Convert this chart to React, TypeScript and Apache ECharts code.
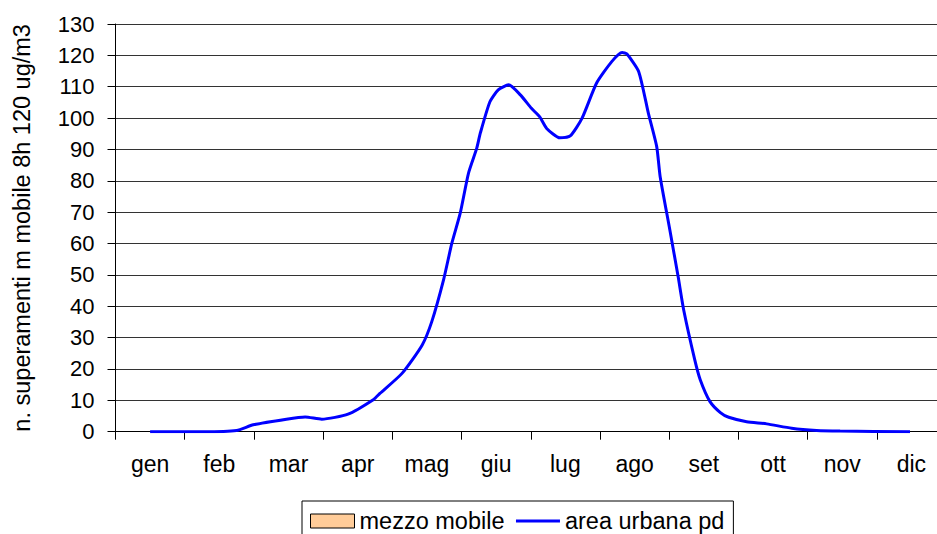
import React, { useEffect, useRef } from "react";
import * as echarts from "echarts";

const months = ["gen", "feb", "mar", "apr", "mag", "giu", "lug", "ago", "set", "ott", "nov", "dic"];
const yTicks = { min: 0, max: 130, interval: 10 };
// position along the year, in months (0 = start of gen, 12 = end of dic)
const positions = [
  0.5, 1.03, 1.26, 1.75, 1.99, 2.47, 2.74, 2.98, 3.36, 3.73, 3.82, 4.14, 4.43, 4.57, 4.74, 4.86,
  4.98, 5.1, 5.22, 5.27, 5.41, 5.53, 5.68, 5.85, 6.01, 6.13, 6.23, 6.42, 6.57, 6.74, 6.95, 7.17,
  7.32, 7.39, 7.56, 7.7, 7.82, 7.87, 8.01, 8.13, 8.21, 8.37, 8.45, 8.59, 8.74, 8.86, 9.12, 9.41,
  9.77, 10.13, 10.47, 11.48,
];
const areaUrbanaPd = [
  0, 0, 0, 0.4, 2.2, 4.0, 4.7, 4.0, 5.6, 10.3, 12.2, 18.6, 27.6, 35.1, 48.4, 60.1,
  69.6, 82.4, 90.4, 95.1, 105.2, 109, 110.6, 107.4, 103.1, 100.4, 96.7, 93.7, 94.3, 99.9, 111.1, 118,
  120.9, 120.4, 114.8, 101.5, 90.9, 81.3, 64.3, 49.4, 38.8, 22.9, 16.5, 9.6, 6.1, 4.6, 3.2, 2.5,
  1.1, 0.4, 0.2, 0,
];
const mezzoMobile: number[] = [];

const FONT = "'Liberation Sans', Arial, sans-serif";

export default function App() {
  const ref = useRef<HTMLDivElement>(null);
  useEffect(() => {
    if (!ref.current) return;
    const chart = echarts.init(ref.current, undefined, { renderer: "svg" });
    chart.setOption({
      animation: false,
      backgroundColor: "#ffffff",
      textStyle: { fontFamily: FONT, color: "#000" },
      grid: { left: 115.5, right: 0, top: 24, bottom: 102.3, containLabel: false },
      legend: {
        left: 302,
        top: 501,
        orient: "horizontal",
        borderColor: "#000",
        borderWidth: 1,
        padding: [8, 9, 8, 8],
        itemGap: 10,
        itemWidth: 44,
        itemHeight: 14,
        textStyle: { fontFamily: FONT, fontSize: 23.5, color: "#000" },
        data: [
          {
            name: "mezzo mobile",
            icon: "rect",
            itemStyle: { color: "#FFCC99", borderColor: "#000", borderWidth: 1 },
          },
          {
            name: "area urbana pd",
            itemStyle: { color: "rgba(0,0,0,0)", borderWidth: 0, opacity: 0 },
            lineStyle: { color: "#0000FF", width: 3 },
          },
        ],
      },
      xAxis: [
        {
          type: "category",
          data: months,
          boundaryGap: true,
          axisLine: { show: true, lineStyle: { color: "#000", width: 1 } },
          axisTick: { show: true, length: 8, lineStyle: { color: "#000" } },
          axisLabel: { fontFamily: FONT, fontSize: 23, color: "#000", margin: 21 },
          splitLine: { show: false },
        },
        {
          type: "value",
          min: 0,
          max: 12,
          show: false,
        },
      ],
      yAxis: {
        type: "value",
        min: yTicks.min,
        max: yTicks.max,
        interval: yTicks.interval,
        name: "n. superamenti m mobile 8h 120 ug/m3",
        nameLocation: "middle",
        nameGap: 82,
        nameTextStyle: { fontFamily: FONT, fontSize: 23.5, color: "#000" },
        axisLine: { show: true, lineStyle: { color: "#000", width: 1 } },
        axisTick: { show: true, length: 8, lineStyle: { color: "#000" } },
        axisLabel: { fontFamily: FONT, fontSize: 22, color: "#000", margin: 21 },
        splitLine: { show: true, lineStyle: { color: "#333", width: 1 } },
      },
      series: [
        {
          name: "mezzo mobile",
          type: "bar",
          xAxisIndex: 0,
          data: mezzoMobile,
          itemStyle: { color: "#FFCC99", borderColor: "#000", borderWidth: 1 },
        },
        {
          name: "area urbana pd",
          type: "line",
          xAxisIndex: 1,
          data: positions.map((p, i) => [p, areaUrbanaPd[i]]),
          symbol: "none",
          smooth: 0.2,
          lineStyle: { color: "#0000FF", width: 3 },
          itemStyle: { color: "#0000FF" },
        },
      ],
    });
    return () => chart.dispose();
  }, []);
  return (
    <div
      style={{
        position: "absolute",
        left: 0,
        top: 0,
        width: 937,
        height: 534,
        overflow: "hidden",
        background: "#fff",
      }}
    >
      <div ref={ref} style={{ width: 946, height: 534 }} />
    </div>
  );
}
